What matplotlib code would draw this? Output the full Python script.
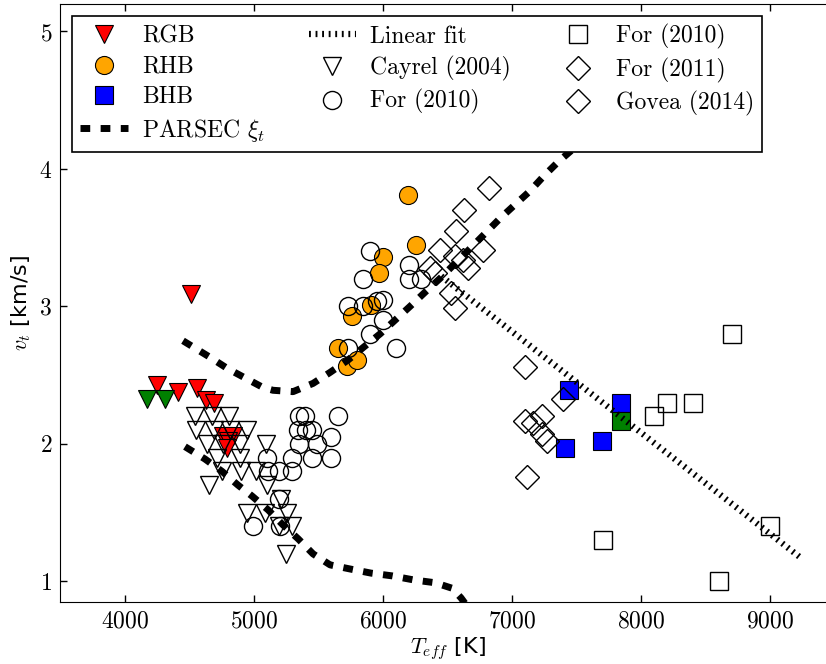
import matplotlib
matplotlib.use('Agg')
import matplotlib.pyplot as plt

plt.rcParams['font.family'] = 'cmr10'
plt.rcParams['mathtext.fontset'] = 'cm'
plt.rcParams['axes.formatter.use_mathtext'] = True
plt.rcParams['font.size'] = 17

# this work
rgb_teff = [4512, 4246, 4414, 4556, 4628, 4688, 4762, 4840, 4800, 4790]
rgb_vt = [3.09, 2.43, 2.38, 2.41, 2.32, 2.30, 2.06, 2.06, 2.02, 1.97]
rhb_teff = [6193, 6255, 6002, 5971, 5904, 5757, 5651, 5720, 5796]
rhb_vt = [3.81, 3.45, 3.36, 3.24, 3.01, 2.93, 2.70, 2.57, 2.61]
bhb_teff = [7441, 7843, 7410, 7696]
bhb_vt = [2.39, 2.30, 1.97, 2.02]
green_tri_teff = [4169, 4311]
green_tri_vt = [2.33, 2.33]
green_sq_teff = [7843]
green_sq_vt = [2.17]

# literature
cayrel_teff = [4543, 4672, 4807, 4551, 4690, 4814, 4948, 4634, 4760, 4892, 5091,
               4716, 4892, 4750, 4897, 5013, 4651, 5103, 5207, 4948, 5085, 5253,
               5196, 5297, 5250]
cayrel_vt = [2.2, 2.2, 2.2, 2.1, 2.1, 2.1, 2.1, 2.0, 2.0, 2.0, 2.0,
             1.9, 1.9, 1.8, 1.8, 1.8, 1.7, 1.7, 1.6, 1.5, 1.5, 1.5,
             1.4, 1.4, 1.2]
for10c_teff = [5349, 5395, 5649, 5343, 5403, 5447, 5597, 5349, 5491, 5098,
               5297, 5447, 5594, 5106, 5196, 5297, 5196, 4995, 5202,
               5899, 5847, 6201, 6199, 6291, 5727, 5847, 5951, 6002, 5997,
               5899, 6098, 5727]
for10c_vt = [2.2, 2.2, 2.2, 2.1, 2.1, 2.1, 2.05, 2.0, 2.0, 1.9,
             1.9, 1.9, 1.9, 1.8, 1.8, 1.8, 1.6, 1.4, 1.4,
             3.4, 3.2, 3.3, 3.2, 3.2, 3.0, 3.0, 3.04, 3.05, 2.9,
             2.8, 2.7, 2.7]
for10s_teff = [8700, 8200, 8400, 8100, 9000, 7700, 8600]
for10s_vt = [2.8, 2.3, 2.3, 2.2, 1.4, 1.3, 1.0]
for11_teff = [6818, 6625, 6568, 6441, 6777, 6557, 6622, 6660, 6364, 6402, 6529, 6557]
for11_vt = [3.86, 3.70, 3.55, 3.41, 3.41, 3.37, 3.34, 3.28, 3.28, 3.24, 3.10, 2.99]
govea_teff = [7097, 7396, 7099, 7164, 7231, 7229, 7268, 7117]
govea_vt = [2.56, 2.33, 2.17, 2.15, 2.20, 2.07, 2.02, 1.76]

# PARSEC microturbulence tracks
parsec1_teff = [4450, 4659, 4791, 4930, 5070, 5147, 5302, 5457, 5589, 5728, 5844,
                5976, 6092, 6208, 6332, 6448, 6565, 6673, 6789, 6905, 7021,
                7138, 7246, 7354, 7600]
parsec1_vt = [2.75, 2.63, 2.55, 2.48, 2.41, 2.39, 2.38, 2.44, 2.52, 2.61, 2.70,
              2.80, 2.90, 3.00, 3.11, 3.21, 3.32, 3.42, 3.53, 3.64, 3.74,
              3.84, 3.95, 4.05, 4.25]
parsec2_teff = [4465, 4620, 4752, 4876, 4985, 5109, 5225, 5341, 5457, 5589,
                5744, 5906, 6069, 6239, 6402, 6534, 6603, 6642]
parsec2_vt = [1.98, 1.89, 1.80, 1.70, 1.62, 1.52, 1.41, 1.31, 1.20, 1.12,
              1.09, 1.06, 1.04, 1.01, 0.99, 0.95, 0.88, 0.83]

fit_teff = [6450, 9250]
fit_vt = [3.22, 1.16]

fig = plt.figure(figsize=(8.26, 6.64), dpi=100)
ax = fig.add_axes([0.0731, 0.0934, 0.9378, 0.9006])

ms = 13
h_rgb, = ax.plot(rgb_teff, rgb_vt, 'v', color='red', mec='black', mew=0.8, ms=ms, label='RGB', zorder=2)
h_rhb, = ax.plot(rhb_teff, rhb_vt, 'o', color='orange', mec='black', mew=0.8, ms=ms, label='RHB', zorder=2)
h_bhb, = ax.plot(bhb_teff, bhb_vt, 's', color='blue', mec='black', mew=0.8, ms=12.5, label='BHB', zorder=2)
ax.plot(green_tri_teff, green_tri_vt, 'v', color='green', mec='black', mew=0.8, ms=ms, zorder=2)
ax.plot(green_sq_teff, green_sq_vt, 's', color='green', mec='black', mew=0.8, ms=12.5, zorder=2)

h_cay, = ax.plot(cayrel_teff, cayrel_vt, 'v', mfc='none', mec='black', mew=1, ms=ms, label='Cayrel (2004)', zorder=3)
h_f10c, = ax.plot(for10c_teff, for10c_vt, 'o', mfc='none', mec='black', mew=1, ms=ms, label='For (2010)', zorder=3)
h_f10s, = ax.plot(for10s_teff, for10s_vt, 's', mfc='none', mec='black', mew=1, ms=12.5, label='For (2010)', zorder=3)
h_f11, = ax.plot(for11_teff, for11_vt, 'D', mfc='none', mec='black', mew=1, ms=12, label='For (2011)', zorder=3)
h_gov, = ax.plot(govea_teff, govea_vt, 'D', mfc='none', mec='black', mew=1, ms=12, label='Govea (2014)', zorder=3)

h_par, = ax.plot(parsec1_teff, parsec1_vt, color='black', lw=5, dashes=(1.4, 1.5),
                 label=r'PARSEC $\xi_t$', zorder=4)
ax.plot(parsec2_teff, parsec2_vt, color='black', lw=5, dashes=(1.4, 1.5), zorder=4)
h_fit, = ax.plot(fit_teff, fit_vt, color='black', lw=4.5, dashes=(0.3, 0.75),
                 label='Linear fit', zorder=4)

ax.set_xlim(3500, 9500)
ax.set_ylim(0.85, 5.2)
ax.set_xticks([4000, 5000, 6000, 7000, 8000, 9000])
ax.set_yticks([1, 2, 3, 4, 5])
ax.tick_params(direction='in', top=True, right=True, length=4.7, width=1, pad=6)
ax.set_xlabel(r'$T_{eff}$ [K]', fontfamily='DejaVu Sans', fontsize=16, labelpad=2)
ax.set_ylabel(r'$v_t$ [km/s]', fontfamily='DejaVu Sans', fontsize=16)

handles = [h_rgb, h_rhb, h_bhb, h_par, h_fit, h_cay, h_f10c, h_f10s, h_f11, h_gov]
leg = ax.legend(handles=handles, loc='upper left', ncol=3, numpoints=1,
                fancybox=False, framealpha=1, edgecolor='black',
                columnspacing=1.85, handletextpad=0.6,
                labelspacing=0.35, borderpad=0.35)
leg.get_frame().set_linewidth(1.2)
leg.set_zorder(10)

fig.savefig('out.png', dpi=100)
